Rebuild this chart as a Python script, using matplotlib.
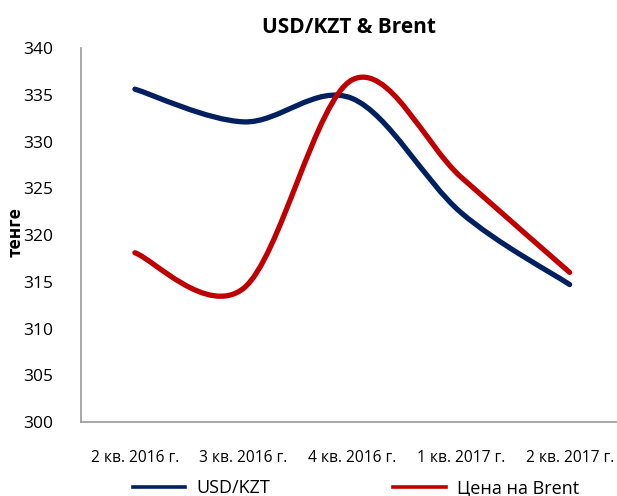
import matplotlib
matplotlib.use('Agg')
import matplotlib.pyplot as plt
from matplotlib.path import Path
from matplotlib.patches import PathPatch
from matplotlib.lines import Line2D
import numpy as np

plt.rcParams['font.family'] = ['Open Sans', 'DejaVu Sans']

# Data
quarters = ['2 кв. 2016 г.', '3 кв. 2016 г.', '4 кв. 2016 г.', '1 кв. 2017 г.', '2 кв. 2017 г.']
usd_kzt = [335.6, 332.1, 334.6, 322.4, 314.7]
brent = [318.1, 314.3, 336.6, 326.2, 316.0]

blue = '#002060'
red = '#C00000'


def smooth_path(xs, ys):
    # Excel-like smoothed line: cubic Bezier segments through the points
    pts = np.column_stack([xs, ys]).astype(float)
    n = len(pts)
    verts = [pts[0]]
    codes = [Path.MOVETO]
    for i in range(n - 1):
        p0 = pts[i - 1] if i > 0 else pts[i]
        p1 = pts[i]
        p2 = pts[i + 1]
        p3 = pts[i + 2] if i + 2 < n else pts[i + 1]
        c1 = p1 + (p2 - p0) / 6.0
        c2 = p2 - (p3 - p1) / 6.0
        verts += [c1, c2, p2]
        codes += [Path.CURVE4] * 3
    return Path(verts, codes)


fig = plt.figure(figsize=(6.17, 4.96), dpi=100)
ax = fig.add_axes([0.1306, 0.1492, 0.8807, 0.754])

x = np.arange(len(quarters))
for series, col in [(usd_kzt, blue), (brent, red)]:
    patch = PathPatch(smooth_path(x, series), facecolor='none', edgecolor=col,
                      lw=3.8, capstyle='round', joinstyle='round', zorder=3)
    ax.add_patch(patch)

ax.set_xlim(-0.5, len(quarters) - 0.5)
ax.set_ylim(300, 340)
ax.set_yticks(np.arange(300, 341, 5))
ax.set_xticks(x)
ax.set_xticklabels(quarters, fontsize=11.2)
ax.tick_params(axis='y', labelsize=12.5, length=0, pad=20)
ax.tick_params(axis='x', length=0, pad=20)

for s in ['top', 'right']:
    ax.spines[s].set_visible(False)
for s in ['left', 'bottom']:
    ax.spines[s].set_color('#999999')
    ax.spines[s].set_linewidth(1.2)

ax.set_title('USD/KZT & Brent', fontsize=15, fontweight='bold', pad=11, x=0.494)
fig.text(0.026, 0.532, 'тенге', rotation=90, fontsize=12.5, fontweight='bold',
         ha='center', va='center')

handles = [Line2D([], [], color=blue, lw=2.6),
           Line2D([], [], color=red, lw=2.6)]
fig.legend(handles, ['USD/KZT', 'Цена на Brent'], ncol=2, loc='center',
           bbox_to_anchor=(0.577, 0.016), frameon=False, fontsize=13,
           handlelength=2.9, handletextpad=0.65, columnspacing=6.8,
           borderpad=0)

fig.savefig('out.png', dpi=100)
